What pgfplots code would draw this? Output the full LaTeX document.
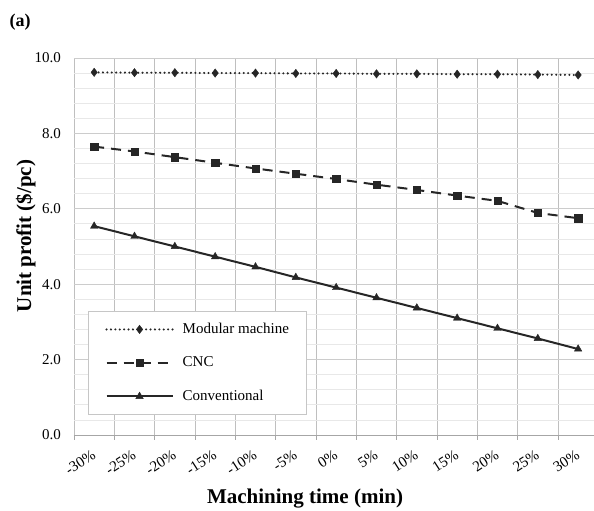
\documentclass[border=0pt]{standalone}
\usepackage{fontspec}
\setmainfont{Liberation Serif}
\usepackage{pgfplots}
\pgfplotsset{compat=1.18}
\definecolor{ink}{HTML}{262626}
\begin{document}
\begin{tikzpicture}
\useasboundingbox (0pt,0pt) rectangle (594pt,511pt);
\begin{axis}[
    at={(74pt,76pt)}, anchor=south west,
    scale only axis, width=524.3pt, height=377pt,
    xmin=-0.5, xmax=12.5, ymin=0, ymax=10,
    xtick={0,...,12},
    xticklabels={-30\%,-25\%,-20\%,-15\%,-10\%,-5\%,0\%,5\%,10\%,15\%,20\%,25\%,30\%},
    minor xtick={-0.5,0.5,...,12.5},
    ytick={0,2,...,10},
    minor ytick={0.4,0.8,1.2,1.6,2.4,2.8,3.2,3.6,4.4,4.8,5.2,5.6,6.4,6.8,7.2,7.6,8.4,8.8,9.2,9.6},
    ymajorgrids, yminorgrids, xminorgrids,
    major y grid style={gray!40, line width=0.8pt},
    minor y grid style={gray!18, line width=0.8pt},
    minor x grid style={gray!50, line width=0.8pt},
    axis x line*=bottom, axis y line*=left,
    x axis line style={gray!70, line width=0.9pt},
    y axis line style={draw=none},
    tick align=outside,
    major tick length=0pt,
    minor tick length=5pt,
    minor x tick style={gray!70, line width=0.9pt},
    minor y tick style={draw=none},
    /pgf/number format/assume math mode=true,
    yticklabel style={/pgf/number format/fixed, /pgf/number format/fixed zerofill,
        /pgf/number format/precision=1, font=\fontsize{15}{18}\selectfont,
        anchor=east, inner sep=0pt, xshift=-13pt},
    xticklabel style={xshift=-3pt, yshift=-14pt, rotate=33, anchor=north east,
        inner sep=0pt, font=\fontsize{15}{18}\selectfont},
    xlabel={Machining time (min)},
    ylabel={Unit profit (\$/pc)},
    label style={font=\bfseries\fontsize{21}{25}\selectfont},
    xlabel style={at={(axis description cs:0.4406,-0.183)}, anchor=base},
    ylabel style={at={(axis description cs:-0.082,0.528)}, anchor=base},
    legend style={at={(axis description cs:0.0267,0.3289)}, anchor=north west,
        draw=gray!45, line width=0.8pt, fill=white,
        inner xsep=17pt, inner ysep=11pt, row sep=19.5pt, column sep=9pt,
        font=\fontsize{15}{18}\selectfont,
        nodes={inner sep=0pt, text height=11pt, text depth=3pt}},
    legend cell align=left,
    legend image code/.code={\draw[mark repeat=2, mark phase=2, #1]
        plot coordinates {(0pt,0pt) (33pt,0pt) (66pt,0pt)};},
]
\addplot[ink, line width=2.3pt, line cap=round, dash pattern=on 0pt off 4.4pt,
    mark=diamond*, mark size=4.2pt, mark options={solid, fill=ink, line width=0.4pt}]
coordinates {
    (0,9.62) (1,9.61) (2,9.61) (3,9.60) (4,9.60) (5,9.59) (6,9.59)
    (7,9.58) (8,9.58) (9,9.57) (10,9.57) (11,9.56) (12,9.55)
};
\addplot[ink, line width=2pt, dash pattern=on 10pt off 7pt,
    mark=square*, mark size=3.6pt, mark options={solid, fill=ink, line width=0.4pt}]
coordinates {
    (0,7.65) (1,7.52) (2,7.37) (3,7.22) (4,7.07) (5,6.93) (6,6.79)
    (7,6.64) (8,6.50) (9,6.35) (10,6.21) (11,5.89) (12,5.75)
};
\addplot[ink, line width=2pt,
    mark=triangle*, mark size=4.3pt, mark options={solid, fill=ink, line width=0.4pt}]
coordinates {
    (0,5.54) (1,5.27) (2,5.00) (3,4.73) (4,4.46) (5,4.18) (6,3.91)
    (7,3.64) (8,3.37) (9,3.10) (10,2.83) (11,2.56) (12,2.28)
};
\legend{Modular machine, CNC, Conventional}
\end{axis}
\node[anchor=base west, font=\bfseries\fontsize{18}{21}\selectfont] at (6pt,484pt) {(a)};
\end{tikzpicture}
\end{document}
